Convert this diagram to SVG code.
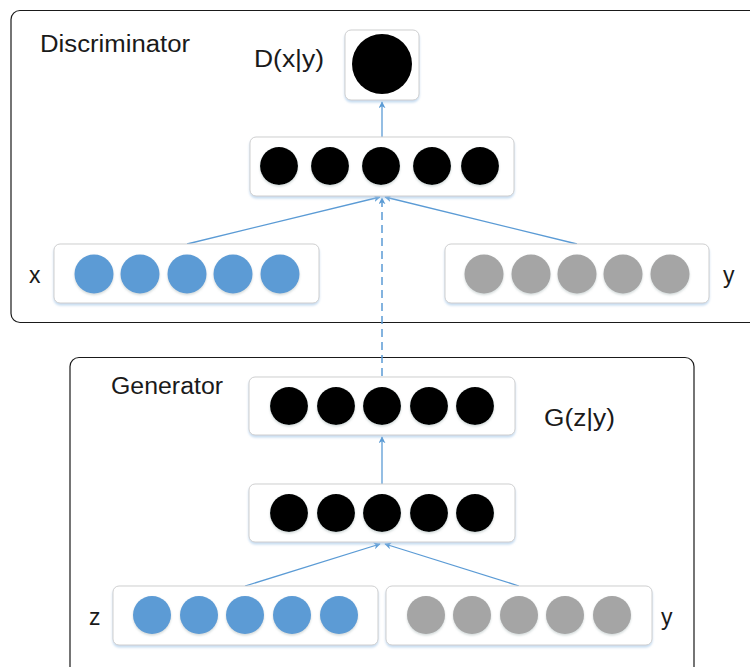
<svg xmlns="http://www.w3.org/2000/svg" width="750" height="667" viewBox="0 0 750 667">
<defs>
<style>
.outer{fill:#fff;stroke:#1a1a1a;stroke-width:1.2}
.box{fill:#fff;stroke:#cfcfcf;stroke-width:1;filter:url(#bsh)}
.blk{fill:#000;filter:url(#csh)}
.blu{fill:#5B9BD5;filter:url(#csh)}
.gry{fill:#A5A5A5;filter:url(#csh)}
.lbl{font-family:"Liberation Sans",Arial,sans-serif;font-size:23px;fill:#1a1a1a}
.conn{stroke:#5B9BD5;stroke-width:1.3;fill:none;marker-end:url(#ah)}
.dash{stroke-dasharray:8 5;stroke-width:1.5}
</style>
<filter id="bsh" x="-10%" y="-20%" width="120%" height="150%">
<feDropShadow dx="0" dy="2" stdDeviation="1.2" flood-color="#9dc3e6" flood-opacity="0.6"/>
</filter>
<filter id="csh" x="-30%" y="-30%" width="160%" height="160%">
<feDropShadow dx="0" dy="1.5" stdDeviation="1" flood-color="#9aa" flood-opacity="0.45"/>
</filter>
<marker id="ah" viewBox="0 0 10 10" refX="9" refY="5" markerWidth="7" markerHeight="7" orient="auto" markerUnits="userSpaceOnUse">
<path d="M0,0 L10,5 L0,10 L3,5 Z" fill="#5B9BD5"/>
</marker>
</defs>
<rect width="750" height="667" fill="#fff"/>

<g id="discriminator">
<rect class="outer" x="11" y="10.5" width="760" height="312" rx="9"/>
<text class="lbl" x="40" y="52" textLength="150" lengthAdjust="spacingAndGlyphs">Discriminator</text>
</g>
<g id="generator">
<rect class="outer" x="70" y="357.5" width="624" height="330" rx="9"/>
<text class="lbl" x="111" y="394" textLength="112" lengthAdjust="spacingAndGlyphs">Generator</text>
</g>

<g id="connectors">
<line class="conn" x1="382" y1="137" x2="382" y2="102"/>
<line class="conn" x1="187" y1="244" x2="380" y2="197"/>
<line class="conn" x1="577" y1="244" x2="385" y2="197"/>
<line class="conn dash" x1="382" y1="376" x2="382" y2="198"/>
<line class="conn" x1="382" y1="484" x2="382" y2="437"/>
<line class="conn" x1="245" y1="586" x2="380" y2="544"/>
<line class="conn" x1="519" y1="586" x2="385" y2="544"/>
</g>

<g id="d-output">
<rect class="box" x="345" y="30" width="74" height="70" rx="6"/>
<circle cx="382" cy="64" r="30" fill="#000"/>
<text class="lbl" x="254" y="67" textLength="70" lengthAdjust="spacingAndGlyphs">D(x|y)</text>
</g>

<g id="d-hidden">
<rect class="box" x="250" y="137" width="264" height="59" rx="6"/>
<circle class="blk" cx="279" cy="166" r="19"/>
<circle class="blk" cx="330" cy="166" r="19"/>
<circle class="blk" cx="381" cy="166" r="19"/>
<circle class="blk" cx="432" cy="166" r="19"/>
<circle class="blk" cx="480" cy="166" r="19"/>
</g>

<g id="d-x">
<rect class="box" x="54" y="244" width="265" height="59" rx="6"/>
<circle class="blu" cx="94" cy="274" r="19.5"/>
<circle class="blu" cx="140" cy="274" r="19.5"/>
<circle class="blu" cx="187" cy="274" r="19.5"/>
<circle class="blu" cx="233" cy="274" r="19.5"/>
<circle class="blu" cx="280" cy="274" r="19.5"/>
<text class="lbl" x="29" y="283">x</text>
</g>

<g id="d-y">
<rect class="box" x="445" y="244" width="264" height="59" rx="6"/>
<circle class="gry" cx="484" cy="274" r="19.5"/>
<circle class="gry" cx="531" cy="274" r="19.5"/>
<circle class="gry" cx="577" cy="274" r="19.5"/>
<circle class="gry" cx="623" cy="274" r="19.5"/>
<circle class="gry" cx="670" cy="274" r="19.5"/>
<text class="lbl" x="723" y="283">y</text>
</g>

<g id="g-output">
<rect class="box" x="249" y="377" width="266" height="58" rx="6"/>
<circle class="blk" cx="289" cy="406" r="19"/>
<circle class="blk" cx="336" cy="406" r="19"/>
<circle class="blk" cx="382" cy="406" r="19"/>
<circle class="blk" cx="429" cy="406" r="19"/>
<circle class="blk" cx="475" cy="406" r="19"/>
<text class="lbl" x="544" y="426" textLength="71" lengthAdjust="spacingAndGlyphs">G(z|y)</text>
</g>

<g id="g-hidden">
<rect class="box" x="249" y="484" width="266" height="58" rx="6"/>
<circle class="blk" cx="289" cy="513" r="19"/>
<circle class="blk" cx="336" cy="513" r="19"/>
<circle class="blk" cx="382" cy="513" r="19"/>
<circle class="blk" cx="429" cy="513" r="19"/>
<circle class="blk" cx="475" cy="513" r="19"/>
</g>

<g id="g-z">
<rect class="box" x="113" y="586" width="265" height="59" rx="6"/>
<circle class="blu" cx="152" cy="615" r="19"/>
<circle class="blu" cx="199" cy="615" r="19"/>
<circle class="blu" cx="245" cy="615" r="19"/>
<circle class="blu" cx="292" cy="615" r="19"/>
<circle class="blu" cx="339" cy="615" r="19"/>
<text class="lbl" x="89" y="625">z</text>
</g>

<g id="g-y">
<rect class="box" x="386" y="586" width="266" height="59" rx="6"/>
<circle class="gry" cx="426" cy="615" r="19"/>
<circle class="gry" cx="472" cy="615" r="19"/>
<circle class="gry" cx="519" cy="615" r="19"/>
<circle class="gry" cx="565" cy="615" r="19"/>
<circle class="gry" cx="612" cy="615" r="19"/>
<text class="lbl" x="661" y="625">y</text>
</g>
</svg>
